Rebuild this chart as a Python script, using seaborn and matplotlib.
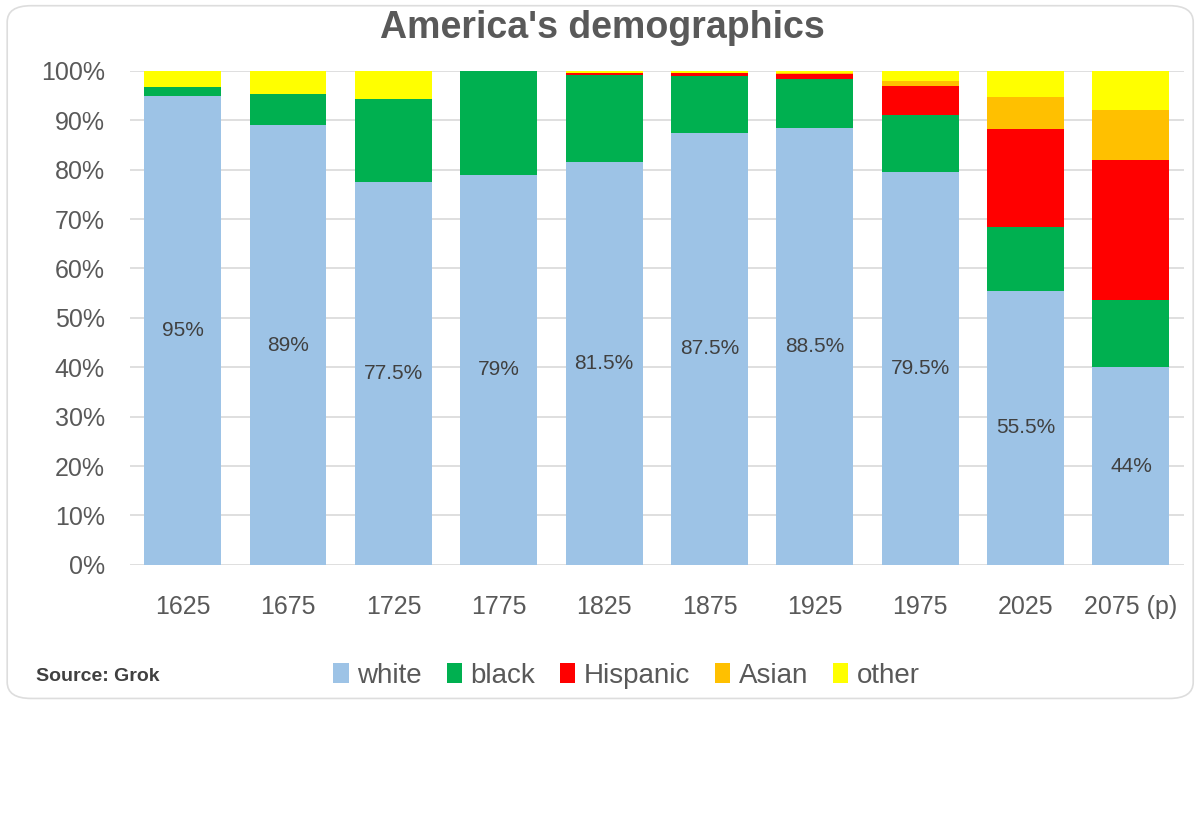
import numpy as np
import matplotlib
matplotlib.use("Agg")
import matplotlib.pyplot as plt
from matplotlib.patches import Patch, FancyBboxPatch
import seaborn as sns

# Data (shares in %)
years = ["1625", "1675", "1725", "1775", "1825", "1875", "1925", "1975", "2025", "2075 (p)"]
white = [95, 89, 77.5, 79, 81.6, 87.5, 88.5, 79.5, 55.5, 40]
black = [1.7, 6.4, 16.8, 21, 17.6, 11.5, 9.8, 11.5, 12.8, 13.6]
hispanic = [0, 0, 0, 0, 0.3, 0.5, 1.1, 6, 20, 28.4]
asian = [0, 0, 0, 0, 0, 0, 0.2, 1, 6.5, 10]
other = [3.3, 4.6, 5.7, 0, 0.5, 0.5, 0.4, 2, 5.2, 8]
white_labels = ["95%", "89%", "77.5%", "79%", "81.5%", "87.5%", "88.5%", "79.5%", "55.5%", "44%"]

group_names = ["white", "black", "Hispanic", "Asian", "other"]
group_colors = ["#9DC3E6", "#00B050", "#FF0000", "#FFC000", "#FFFF00"]

sns.set_theme(style="white")
plt.rcParams['font.family'] = ['Liberation Sans', 'DejaVu Sans']

fig = plt.figure(figsize=(11.98, 8.15), dpi=100)

# card outline (no fill, so it never hides the axes)
card = FancyBboxPatch((0.006, 0.143), 0.99, 0.85, boxstyle="round,pad=0,rounding_size=0.02",
                      transform=fig.transFigure, facecolor="none", edgecolor="#DDDDDD",
                      linewidth=1.2, zorder=-1)
fig.patches.append(card)

ax = fig.add_axes([0.1085, 0.307, 0.8795, 0.606])
ax.set_facecolor("none")

# stack by overlaying cumulative totals, tallest first
stack = np.cumsum([white, black, hispanic, asian, other], axis=0)
for i in reversed(range(len(group_names))):
    sns.barplot(x=years, y=stack[i], color=group_colors[i], saturation=1,
                width=0.73, linewidth=0, ax=ax, zorder=2)

ax.bar_label(ax.containers[-1], labels=white_labels, label_type="center",
             fontsize=15, color="#404040")

ax.set_ylim(0, 100)
ax.set_xlim(-0.5, len(years) - 0.5)
ax.set_yticks(np.arange(0, 101, 10))
ax.set_yticklabels([f"{v}%" for v in range(0, 101, 10)])
ax.yaxis.grid(True, color="#D9D9D9", linewidth=1.2, zorder=0)
ax.set_axisbelow(True)
for s in ax.spines.values():
    s.set_visible(False)
ax.tick_params(axis="y", labelsize=18, labelcolor="#595959", length=0, pad=18)
ax.tick_params(axis="x", labelsize=18, labelcolor="#595959", length=0, pad=22)
ax.set_xlabel("")
ax.set_ylabel("")

fig.text(0.503, 0.966, "America's demographics", ha="center", va="center",
         fontsize=27, fontweight="bold", color="#595959")

handles = [Patch(facecolor=c, edgecolor="none", label=n) for n, c in zip(group_names, group_colors)]
fig.legend(handles=handles, loc="center", bbox_to_anchor=(0.523, 0.171), ncol=5,
           frameon=False, fontsize=20, labelcolor="#595959", handlelength=0.55,
           handleheight=0.75, handletextpad=0.3, columnspacing=0.9)

fig.text(0.03, 0.17, "Source: Grok", ha="left", va="center", fontsize=14,
         fontweight="bold", color="#404040")

fig.savefig("out.png", dpi=100)
